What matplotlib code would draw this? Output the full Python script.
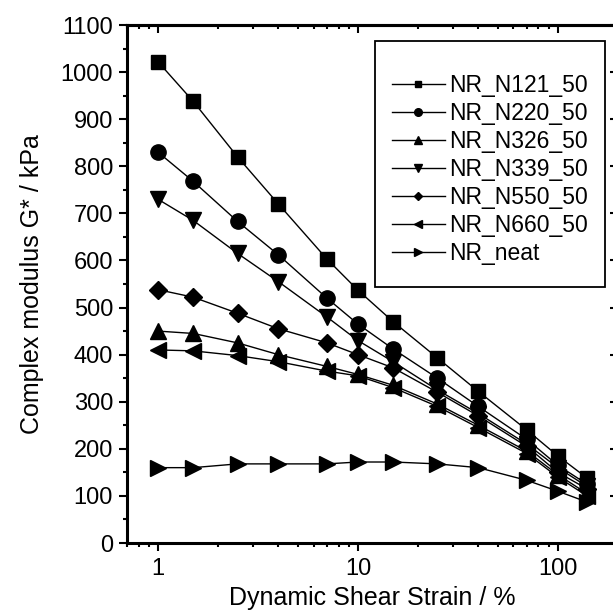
import matplotlib
matplotlib.use("Agg")
import matplotlib.pyplot as plt
from matplotlib.patches import Rectangle
from matplotlib.ticker import (LogLocator, MultipleLocator, FixedLocator,
                               FixedFormatter, NullFormatter)

plt.rcParams['font.family'] = ['Liberation Sans', 'DejaVu Sans']

# strain amplitude (%)
strain = [1, 1.5, 2.5, 4, 7, 10, 15, 25, 40, 70, 100, 140]

# complex modulus G* (kPa)
g_n121 = [1022, 938, 820, 720, 603, 537, 470, 393, 322, 240, 185, 138]
g_n220 = [830, 768, 683, 612, 520, 465, 412, 350, 290, 220, 165, 125]
g_n326 = [450, 445, 425, 400, 375, 358, 335, 295, 250, 195, 145, 105]
g_n339 = [730, 685, 615, 555, 480, 430, 385, 325, 275, 210, 160, 120]
g_n550 = [538, 522, 488, 455, 425, 400, 372, 320, 270, 205, 150, 115]
g_n660 = [410, 408, 398, 385, 365, 355, 330, 290, 245, 190, 140, 100]
g_neat = [160, 160, 168, 168, 168, 172, 172, 168, 160, 133, 110, 87]

labels = ["NR_N121_50", "NR_N220_50", "NR_N326_50", "NR_N339_50",
          "NR_N550_50", "NR_N660_50", "NR_neat"]
series = [g_n121, g_n220, g_n326, g_n339, g_n550, g_n660, g_neat]
markers = ["s", "o", "^", "v", "D", "<", ">"]
msizes = [10, 11, 11, 11, 9, 11, 11]

fig = plt.figure(figsize=(6.13, 6.14), dpi=100)
ax = fig.add_axes([127 / 613, 71 / 614, 491 / 613, 518 / 614])

for y, m, ms, lab in zip(series, markers, msizes, labels):
    ax.plot(strain, y, color="black", lw=1.0, marker=m, ms=ms,
            mfc="black", mec="black", label=lab)

ax.set_xscale("log")
ax.set_xlim(0.7, 200)
ax.set_ylim(0, 1100)

ax.xaxis.set_major_locator(FixedLocator([1, 10, 100]))
ax.xaxis.set_major_formatter(FixedFormatter(["1", "10", "100"]))
ax.xaxis.set_minor_locator(LogLocator(base=10, subs=range(2, 10)))
ax.xaxis.set_minor_formatter(NullFormatter())
ax.yaxis.set_major_locator(MultipleLocator(100))
ax.yaxis.set_minor_locator(MultipleLocator(50))

for s in ax.spines.values():
    s.set_linewidth(2.2)

ax.tick_params(which="both", direction="out", top=False, right=False,
               labelsize=17, width=1.5)
ax.tick_params(which="major", length=6, pad=4)
ax.tick_params(axis="x", which="major", pad=5)
ax.tick_params(which="minor", length=3)

# mirrored inward ticks on top and right
ax_top = ax.secondary_xaxis("top")
ax_top.xaxis.set_major_locator(FixedLocator([1, 10, 100]))
ax_top.xaxis.set_minor_locator(LogLocator(base=10, subs=range(2, 10)))
ax_top.tick_params(which="both", direction="in", labeltop=False, width=1.5)
ax_top.tick_params(which="major", length=6)
ax_top.tick_params(which="minor", length=3)
ax_top.spines["top"].set_linewidth(2.2)

ax_r = ax.secondary_yaxis("right")
ax_r.yaxis.set_major_locator(MultipleLocator(100))
ax_r.yaxis.set_minor_locator(MultipleLocator(50))
ax_r.tick_params(which="both", direction="in", labelright=False, width=1.5)
ax_r.tick_params(which="major", length=6)
ax_r.tick_params(which="minor", length=3)

ax.set_xlabel("Dynamic Shear Strain / %", fontsize=18, labelpad=4)
ax.set_ylabel("Complex modulus G* / kPa", fontsize=18, labelpad=12)

# legend box drawn separately (Origin style padding)
box = Rectangle((0.505, 0.494), 0.4685, 0.475, transform=ax.transAxes,
                fill=False, edgecolor="black", lw=1.3, zorder=5)
ax.add_patch(box)
leg = ax.legend(loc="upper left", bbox_to_anchor=(0.54, 0.906), frameon=False,
                fontsize=16.5, numpoints=1, markerscale=0.5, handlelength=2.3,
                handletextpad=0.2, labelspacing=0.22, borderpad=0,
                borderaxespad=0)

fig.savefig("out.png", dpi=100)
